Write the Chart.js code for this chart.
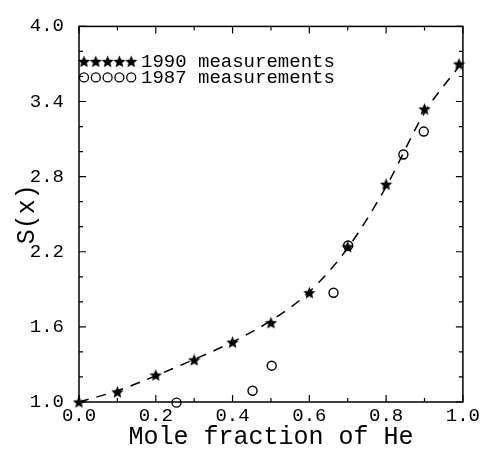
<!DOCTYPE html>
<html>
<head>
<meta charset="utf-8">
<script src="https://cdn.jsdelivr.net/npm/chart.js@4.4.1/dist/chart.umd.min.js"></script>
<style>
  html, body { margin: 0; padding: 0; background: #fff; }
  #wrap { width: 483px; height: 452px; }
</style>
</head>
<body>
<div id="wrap"><canvas id="chart"></canvas></div>
<script>
// values
const x1990 = [0.0, 0.1, 0.2, 0.3, 0.4, 0.5, 0.6, 0.7, 0.8, 0.9, 0.99];
const s1990 = [1.0, 1.08, 1.215, 1.336, 1.478, 1.633, 1.873, 2.24, 2.739, 3.34, 3.70];

const x1987 = [0.254, 0.452, 0.502, 0.663, 0.701, 0.845, 0.898];
const s1987 = [0.995, 1.09, 1.29, 1.873, 2.25, 2.977, 3.16];

// dashed fit curve
const xFit = [0.0, 0.1, 0.2, 0.3, 0.4, 0.5, 0.6, 0.7, 0.8, 0.9, 1.0];
const sFit = [1.0, 1.09, 1.21, 1.34, 1.48, 1.65, 1.88, 2.23, 2.72, 3.31, 3.72];

const xTicks = [0.0, 0.2, 0.4, 0.6, 0.8, 1.0];
const yTicks = [1.0, 1.6, 2.2, 2.8, 3.4, 4.0];

const legendLabels = ['1990 measurements', '1987 measurements'];

const FONT = "'Liberation Mono', 'DejaVu Sans Mono', monospace";

// filled five-pointed star used as the point marker
function makeStar(size) {
    const c = document.createElement('canvas');
    c.width = size; c.height = size;
    const g = c.getContext('2d');
    const cx = size / 2, cy = size / 2 + 0.5, ro = size / 2, ri = ro * 0.45;
    g.beginPath();
    for (let i = 0; i < 10; i++) {
        const r = i % 2 === 0 ? ro : ri;
        const a = -Math.PI / 2 + i * Math.PI / 5;
        g.lineTo(cx + r * Math.cos(a), cy + r * Math.sin(a));
    }
    g.closePath();
    g.fillStyle = '#000';
    g.fill();
    return c;
}
const starImg = makeStar(13);

const toPts = (xs, ys) => xs.map((x, i) => ({ x: x, y: ys[i] }));

// box + inward ticks on all four sides, plus the legend block
const framePlugin = {
    id: 'frame',
    afterDatasetsDraw(chart) {
        const { ctx, chartArea: a, scales: { x, y } } = chart;
        ctx.save();
        ctx.strokeStyle = '#000';
        ctx.lineWidth = 1.5;
        ctx.strokeRect(a.left, a.top, a.right - a.left, a.bottom - a.top);
        ctx.lineWidth = 1.2;
        ctx.beginPath();
        for (let i = 0; i <= 10; i++) {
            const px = x.getPixelForValue(i / 10);
            const len = i % 2 === 0 ? 7 : 4;
            ctx.moveTo(px, a.bottom); ctx.lineTo(px, a.bottom - len);
            ctx.moveTo(px, a.top); ctx.lineTo(px, a.top + len);
        }
        for (let i = 0; i <= 15; i++) {
            const py = y.getPixelForValue(1 + i * 0.2);
            const len = i % 3 === 0 ? 7 : 4;
            ctx.moveTo(a.left, py); ctx.lineTo(a.left + len, py);
            ctx.moveTo(a.right, py); ctx.lineTo(a.right - len, py);
        }
        ctx.stroke();

        // legend: five markers then the label
        const ds = chart.data.datasets;
        const rows = [a.top + 35, a.top + 51];
        ctx.font = '19px ' + FONT;
        ctx.fillStyle = '#000';
        ctx.textBaseline = 'middle';
        for (let r = 0; r < 2; r++) {
            const yy = rows[r];
            for (let k = 0; k < 5; k++) {
                const xx = a.left + 5 + k * 11.8;
                if (r === 0) {
                    ctx.drawImage(starImg, xx - 6.5, yy - 6.5, 13, 13);
                } else {
                    ctx.beginPath();
                    ctx.lineWidth = 1.3;
                    ctx.arc(xx, yy, 4.5, 0, Math.PI * 2);
                    ctx.stroke();
                }
            }
            ctx.fillText(ds[r].label, a.left + 62, yy + 1);
        }
        ctx.restore();
    }
};

new Chart(document.getElementById('chart'), {
    type: 'scatter',
    data: {
        datasets: [
            {
                label: legendLabels[0],
                data: toPts(x1990, s1990),
                pointStyle: starImg,
                pointRadius: 6,
                showLine: false,
                clip: false,
                order: 1
            },
            {
                label: legendLabels[1],
                data: toPts(x1987, s1987),
                pointStyle: 'circle',
                pointRadius: 4.5,
                borderWidth: 1.4,
                borderColor: '#000',
                backgroundColor: 'rgba(0,0,0,0)',
                showLine: false,
                clip: false,
                order: 2
            },
            {
                label: 'fit',
                data: toPts(xFit, sFit),
                showLine: true,
                borderColor: '#000',
                borderWidth: 1.5,
                borderDash: [10, 8],
                pointRadius: 0,
                cubicInterpolationMode: 'monotone',
                order: 3
            }
        ]
    },
    plugins: [framePlugin],
    options: {
        responsive: true,
        maintainAspectRatio: false,
        animation: false,
        layout: { padding: { top: 14, right: 13, left: 0, bottom: 0 } },
        plugins: {
            legend: { display: false },
            tooltip: { enabled: false }
        },
        scales: {
            x: {
                type: 'linear',
                min: 0, max: 1,
                afterBuildTicks: s => { s.ticks = xTicks.map(v => ({ value: v })); },
                afterFit: s => { s.height = 50; },
                grid: { display: false, drawTicks: false },
                border: { display: false },
                ticks: {
                    color: '#000',
                    padding: 3,
                    maxRotation: 0,
                    font: { family: FONT, size: 19 },
                    callback: v => v.toFixed(1)
                },
                title: {
                    display: true,
                    text: 'Mole fraction of He',
                    color: '#000',
                    font: { family: FONT, size: 25 },
                    padding: { top: 0, bottom: 0 }
                }
            },
            y: {
                type: 'linear',
                min: 1, max: 4,
                afterBuildTicks: s => { s.ticks = yTicks.map(v => ({ value: v })); },
                afterFit: s => { s.width = 79; },
                grid: { display: false, drawTicks: false },
                border: { display: false },
                ticks: {
                    color: '#000',
                    padding: 15,
                    font: { family: FONT, size: 19 },
                    callback: v => v.toFixed(1)
                },
                title: {
                    display: true,
                    text: 'S(x)',
                    color: '#000',
                    font: { family: FONT, size: 25 },
                    padding: { top: 12, bottom: 0 }
                }
            }
        }
    }
});
</script>
</body>
</html>
